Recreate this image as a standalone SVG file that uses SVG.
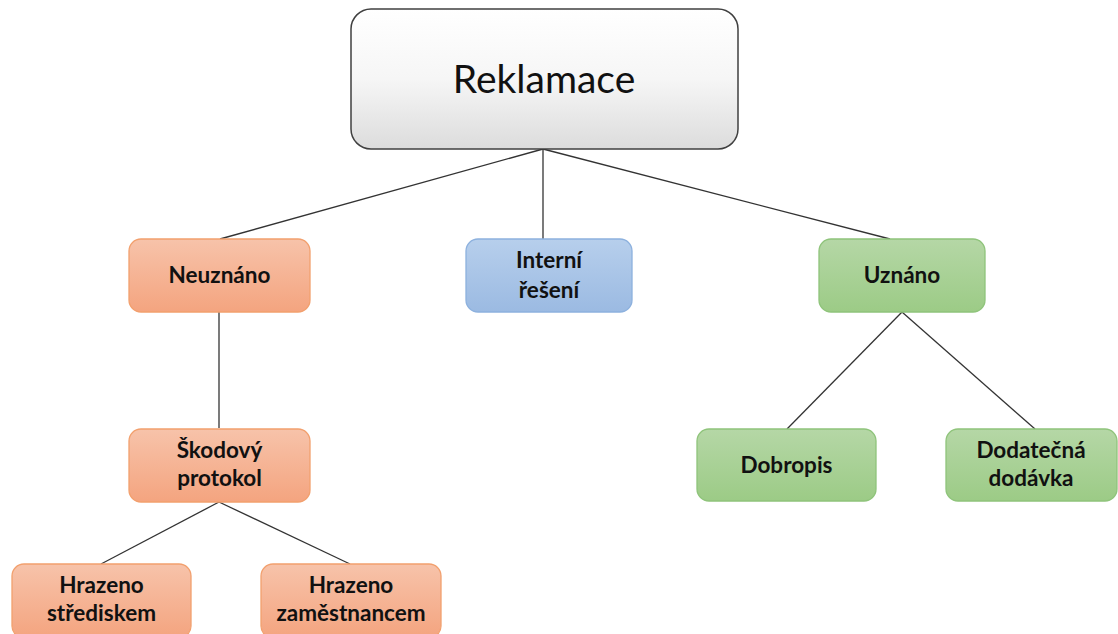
<svg xmlns="http://www.w3.org/2000/svg" width="1118" height="634" viewBox="0 0 1118 634">
<defs>
<linearGradient id="gGray" x1="0" y1="0" x2="0" y2="1">
<stop offset="0" stop-color="#ffffff"/><stop offset="0.5" stop-color="#f6f6f6"/><stop offset="1" stop-color="#dcdcdc"/>
</linearGradient>
<linearGradient id="gOrange" x1="0" y1="0" x2="0" y2="1">
<stop offset="0" stop-color="#f7c3aa"/><stop offset="1" stop-color="#f4a47f"/>
</linearGradient>
<linearGradient id="gBlue" x1="0" y1="0" x2="0" y2="1">
<stop offset="0" stop-color="#b7cfec"/><stop offset="1" stop-color="#9bbae2"/>
</linearGradient>
<linearGradient id="gGreen" x1="0" y1="0" x2="0" y2="1">
<stop offset="0" stop-color="#b5d7a6"/><stop offset="1" stop-color="#9ccb86"/>
</linearGradient>
<style>
.root{fill:url(#gGray);stroke:#404040;stroke-width:1.5}
.or{fill:url(#gOrange);stroke:#f2a06e;stroke-width:1.3}
.bl{fill:url(#gBlue);stroke:#8db1de;stroke-width:1.3}
.gr{fill:url(#gGreen);stroke:#8fc47b;stroke-width:1.3}
.t{font-family:Lato,"Liberation Sans",sans-serif;font-weight:bold;font-size:22.5px;fill:#111;text-anchor:middle}
.tr{font-family:Lato,"Liberation Sans",sans-serif;font-size:39px;fill:#111;text-anchor:middle}
.c{stroke:#333;stroke-width:1.3;fill:none}
</style>
</defs>
<rect width="1118" height="634" fill="#ffffff"/>
<g id="connectors">
<line class="c" x1="543" y1="149" x2="220" y2="239"/>
<line class="c" x1="543" y1="149" x2="543" y2="239"/>
<line class="c" x1="543" y1="149" x2="890" y2="239"/>
<line class="c" x1="219" y1="312" x2="219" y2="428"/>
<line class="c" x1="219" y1="502" x2="101" y2="564"/>
<line class="c" x1="219" y1="502" x2="350" y2="564"/>
<line class="c" x1="902" y1="312" x2="787" y2="429"/>
<line class="c" x1="902" y1="312" x2="1035" y2="429"/>
</g>
<g id="reklamace">
<rect class="root" x="351" y="9" width="387" height="140" rx="20"/>
<text class="tr" x="544" y="93">Reklamace</text>
</g>
<g id="neuznano">
<rect class="or" x="129" y="239" width="181" height="73" rx="12"/>
<text class="t" x="219.5" y="283">Neuznáno</text>
</g>
<g id="interni">
<rect class="bl" x="466" y="239" width="166" height="73" rx="12"/>
<text class="t" x="549" y="268">Interní</text>
<text class="t" x="549" y="298">řešení</text>
</g>
<g id="uznano">
<rect class="gr" x="819" y="239" width="166" height="73" rx="12"/>
<text class="t" x="902" y="283">Uznáno</text>
</g>
<g id="skodovy">
<rect class="or" x="129" y="429" width="181" height="73" rx="12"/>
<text class="t" x="219.5" y="458">Škodový</text>
<text class="t" x="219.5" y="486">protokol</text>
</g>
<g id="dobropis">
<rect class="gr" x="697" y="429" width="179" height="72" rx="12"/>
<text class="t" x="786.5" y="473">Dobropis</text>
</g>
<g id="dodatecna">
<rect class="gr" x="946" y="429" width="171" height="72" rx="12"/>
<text class="t" x="1031" y="458">Dodatečná</text>
<text class="t" x="1031" y="486">dodávka</text>
</g>
<g id="strediskem">
<rect class="or" x="12" y="564" width="179" height="74" rx="12"/>
<text class="t" x="101.5" y="593">Hrazeno</text>
<text class="t" x="101.5" y="621">střediskem</text>
</g>
<g id="zamestnancem">
<rect class="or" x="261" y="564" width="180" height="74" rx="12"/>
<text class="t" x="351" y="593">Hrazeno</text>
<text class="t" x="351" y="621">zaměstnancem</text>
</g>
</svg>
